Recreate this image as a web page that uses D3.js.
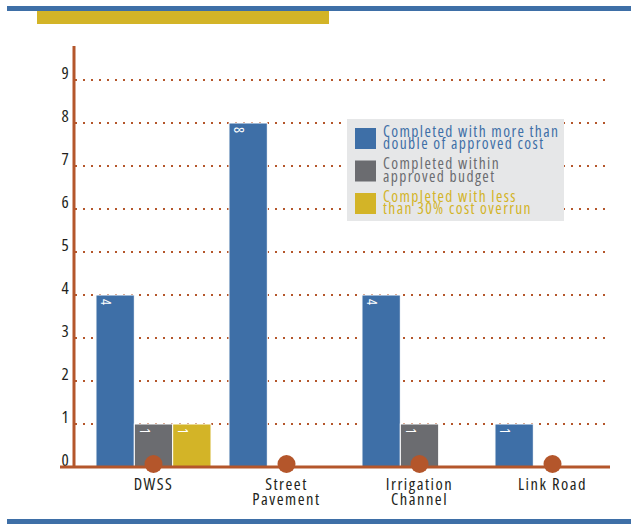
<!DOCTYPE html>
<html><head><meta charset="utf-8">
<script src="https://cdn.jsdelivr.net/npm/d3@7"></script>
<style>html,body{margin:0;padding:0;background:#fff;}svg{display:block;font-family:"Open Sans",Roboto,sans-serif;font-stretch:80%;}</style>
</head><body>
<script>
const categories = ["DWSS", "Street Pavement", "Irrigation Channel", "Link Road"];
const categoryLines = [["DWSS"], ["Street", "Pavement"], ["Irrigation", "Channel"], ["Link Road"]];
const seriesNames = ["Completed with more than double of approved cost", "Completed within approved budget", "Completed with less than 30% cost overrun"];
const legendLines = [["Completed with more than", "double of approved cost"], ["Completed within", "approved budget"], ["Completed with less", "than 30% cost overrun"]];
const moreThanDouble = [4, 8, 4, 1];
const withinBudget = [1, 0, 1, 0];
const lessThan30 = [1, 0, 0, 0];
const yTicks = [0, 1, 2, 3, 4, 5, 6, 7, 8, 9];

const colors = ["#3e6fa7", "#6b6c70", "#d3b427"];
const brown = "#b4562b";
const W = 631, H = 525;
const svg = d3.select("body").append("svg").attr("width", W).attr("height", H);

// decorative bands
svg.append("rect").attr("x", 7).attr("y", 6).attr("width", W - 7).attr("height", 5).attr("fill", colors[0]);
svg.append("rect").attr("x", 37).attr("y", 11).attr("width", 292).attr("height", 13).attr("fill", colors[2]);
svg.append("rect").attr("x", 7).attr("y", 519).attr("width", W - 7).attr("height", 5).attr("fill", colors[0]);

const y = d3.scaleLinear().domain([0, 9]).range([467, 80]);
const x = d3.scaleBand().domain(categories).range([87, 619]).paddingInner(0.135).paddingOuter(0.0675);
const xs = d3.scaleBand().domain([0, 1, 2]).range([0, x.bandwidth()]).padding(0);

// gridlines
svg.append("g").selectAll("line").data(yTicks.filter(d => d > 0)).join("line")
  .attr("x1", 75).attr("x2", 608).attr("y1", d => y(d)).attr("y2", d => y(d))
  .attr("stroke", brown).attr("stroke-width", 2).attr("stroke-dasharray", "2,6");

// tick labels
svg.append("g").selectAll("text").data(yTicks).join("text")
  .attr("x", 65).attr("y", d => y(d) - 1).attr("text-anchor", "middle")
  .attr("font-size", 17).attr("fill", "#231f20").text(d => d);

// bars
const series = [moreThanDouble, withinBudget, lessThan30];
const rows = [];
categories.forEach((c, i) => series.forEach((s, j) => { if (s[i] > 0) rows.push({c, j, v: s[i]}); }));
const bars = svg.append("g").selectAll("g").data(rows).join("g");
bars.append("rect")
  .attr("x", d => x(d.c) + xs(d.j)).attr("y", d => y(d.v))
  .attr("width", xs.bandwidth()).attr("height", d => y(0) - y(d.v))
  .attr("fill", d => colors[d.j]).attr("stroke", "#fff").attr("stroke-width", 1);
bars.append("text")
  .attr("transform", d => `translate(${x(d.c) + xs(d.j) + 9},${y(d.v) + 4}) rotate(90)`)
  .attr("font-size", 14).attr("fill", "#fff").attr("dominant-baseline", "middle").text(d => d.v);

// axes
svg.append("line").attr("x1", 74).attr("x2", 74).attr("y1", 46).attr("y2", 468).attr("stroke", brown).attr("stroke-width", 3);
svg.append("line").attr("x1", 60).attr("x2", 610).attr("y1", 467).attr("y2", 467).attr("stroke", brown).attr("stroke-width", 3);

// circles
svg.append("g").selectAll("circle").data(categories).join("circle")
  .attr("cx", d => x(d) + x.bandwidth() / 2).attr("cy", 464).attr("r", 9).attr("fill", brown);

// category labels
const cl = svg.append("g").selectAll("text").data(categories).join("text")
  .attr("x", d => x(d) + x.bandwidth() / 2).attr("y", 490).attr("text-anchor", "middle")
  .attr("font-size", 16.5).attr("letter-spacing", 1.5).attr("fill", "#231f20");
cl.each(function(d, i) {
  d3.select(this).selectAll("tspan").data(categoryLines[i]).join("tspan")
    .attr("x", x(d) + x.bandwidth() / 2).attr("dy", (t, k) => k === 0 ? 0 : 14.5).text(t => t);
});

// legend
const lg = svg.append("g");
lg.append("rect").attr("x", 347).attr("y", 119).attr("width", 217).attr("height", 102).attr("fill", "#e6e7e8");
seriesNames.forEach((n, j) => {
  const top = 128 + j * 32.5;
  lg.append("rect").attr("x", 355).attr("y", top).attr("width", 21).attr("height", 21).attr("fill", colors[j]);
  const t = lg.append("text").attr("x", 383).attr("y", top + 8.5).attr("font-size", 15.5).attr("letter-spacing", 1.4).attr("fill", colors[j]);
  t.selectAll("tspan").data(legendLines[j]).join("tspan").attr("x", 383).attr("dy", (s, k) => k === 0 ? 0 : 12.5).text(s => s);
});
</script>
</body></html>
